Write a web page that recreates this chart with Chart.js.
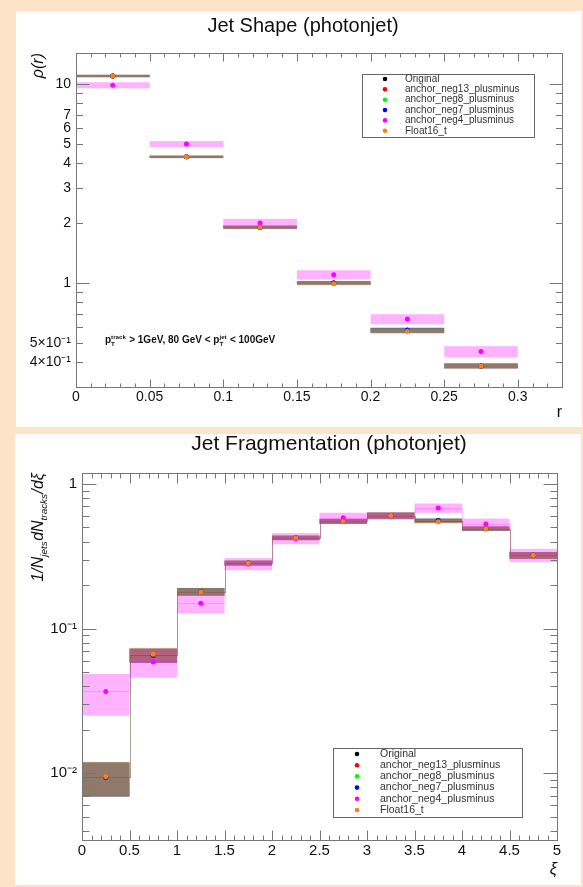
<!DOCTYPE html>
<html>
<head>
<meta charset="utf-8">
<title>Jet Shape / Jet Fragmentation (photonjet)</title>
<script src="https://cdn.jsdelivr.net/npm/chart.js@4.4.1/dist/chart.umd.min.js"></script>
<style>
    html, body { margin: 0; padding: 0; }
    body { width: 583px; height: 887px; background: #fde4c8; position: relative; overflow: hidden; }
    .pad { position: absolute; background: #fff; }
    #pad1 { left: 16px; top: 11px; width: 566px; height: 416px; }
    #pad2 { left: 15px; top: 434px; width: 566px; height: 451px; }
</style>
</head>
<body>
<div class="pad" id="pad1"><canvas id="shapeChart" width="566" height="416"></canvas></div>
<div class="pad" id="pad2"><canvas id="fragChart" width="566" height="451"></canvas></div>

<script>
// series, in legend order
var seriesNames = ["Original", "anchor_neg13_plusminus", "anchor_neg8_plusminus", "anchor_neg7_plusminus", "anchor_neg4_plusminus", "Float16_t"];
var seriesColors = ["#000000", "#ff0000", "#00ff00", "#0000ff", "#ff00ff", "#fa801e"];

// Jet Shape: rho(r) per r bin
var shapeEdges = [0, 0.05, 0.1, 0.15, 0.2, 0.25, 0.3];
var shapeOriginal = [10.96, 4.30, 1.905, 1.00, 0.578, 0.383];
var shapeOriginalErr = [0.15, 0.06, 0.035, 0.02, 0.017, 0.011];
var shapeNeg4 = [9.85, 4.99, 2.0, 1.10, 0.658, 0.452];
var shapeNeg4Err = [0.34, 0.17, 0.10, 0.058, 0.038, 0.029];
var shapeFloat16 = [10.96, 4.30, 1.905, 0.99, 0.571, 0.383];
var shapeXTicks = [0, 0.05, 0.1, 0.15, 0.2, 0.25, 0.3];
var shapeXLabels = ["0", "0.05", "0.1", "0.15", "0.2", "0.25", "0.3"];
var shapeYTicks = [10, 7, 6, 5, 4, 3, 2, 1, 0.5, 0.4];
var shapeYLabels = ["10", "7", "6", "5", "4", "3", "2", "1", "5\u00d710\u207b\u00b9", "4\u00d710\u207b\u00b9"];

// Jet Fragmentation: 1/N dN/dxi per xi bin
var fragEdges = [0, 0.5, 1, 1.5, 2, 2.5, 3, 3.5, 4, 4.5, 5];
var fragOriginal = [0.0094, 0.0655, 0.180, 0.284, 0.424, 0.551, 0.604, 0.558, 0.491, 0.321];
var fragOriginalErr = [0.0025, 0.0073, 0.011, 0.011, 0.015, 0.022, 0.03, 0.018, 0.017, 0.017];
var fragNeg4 = [0.0368, 0.0588, 0.150, 0.280, 0.420, 0.584, 0.600, 0.682, 0.528, 0.322];
var fragNeg4Err = [0.0118, 0.013, 0.022, 0.027, 0.037, 0.048, 0.035, 0.05, 0.048, 0.034];
var fragFloat16 = [0.0095, 0.0664, 0.179, 0.284, 0.424, 0.551, 0.604, 0.548, 0.491, 0.321];
var fragXTicks = [0, 0.5, 1, 1.5, 2, 2.5, 3, 3.5, 4, 4.5, 5];
var fragXLabels = ["0", "0.5", "1", "1.5", "2", "2.5", "3", "3.5", "4", "4.5", "5"];
var fragYTicks = [1, 0.1, 0.01];
var fragYLabels = ["1", "10\u207b\u00b9", "10\u207b\u00b2"];

var FONT = "'Liberation Sans', Arial, sans-serif";
Chart.defaults.font.family = FONT;
Chart.defaults.color = "#111";

function rgba(hex, a) {
    var n = parseInt(hex.slice(1), 16);
    return "rgba(" + (n >> 16) + "," + ((n >> 8) & 255) + "," + (n & 255) + "," + a + ")";
}

function makeDatasets(edges, series) {
    return series.map(function (s, k) {
        return {
            label: seriesNames[k],
            data: s.v.map(function (v, i) { return {x: (edges[i] + edges[i + 1]) / 2, y: v}; }),
            errs: s.e,
            backgroundColor: seriesColors[k],
            borderColor: seriesColors[k],
            pointRadius: 2.5,
            pointBorderWidth: 0,
            showLine: false,
            order: series.length - k
        };
    });
}

// ROOT style E2 boxes (+ optional hist line), drawn under the markers
var errorBands = {
    id: 'errorBands',
    beforeDatasetsDraw: function (chart, args, opts) {
        var ctx = chart.ctx, a = chart.chartArea, xs = chart.scales.x, ys = chart.scales.y;
        var edges = opts.edges;
        ctx.save();
        ctx.beginPath();
        ctx.rect(a.left, a.top, a.right - a.left, a.bottom - a.top);
        ctx.clip();
        chart.data.datasets.forEach(function (ds) {
            ctx.fillStyle = rgba(ds.backgroundColor, 0.3);
            ds.data.forEach(function (p, i) {
                var x0 = xs.getPixelForValue(edges[i]), x1 = xs.getPixelForValue(edges[i + 1]);
                var y0 = ys.getPixelForValue(p.y + ds.errs[i]), y1 = ys.getPixelForValue(p.y - ds.errs[i]);
                ctx.fillRect(x0, y0, x1 - x0, y1 - y0);
            });
        });
        if (opts.steps) {
            ctx.lineWidth = 1;
            chart.data.datasets.forEach(function (ds) {
                ctx.strokeStyle = rgba(ds.backgroundColor, ds.backgroundColor === "#000000" ? 0.06 : 0.2);
                ctx.beginPath();
                ds.data.forEach(function (p, i) {
                    var x0 = Math.round(xs.getPixelForValue(edges[i])) + 0.5, x1 = Math.round(xs.getPixelForValue(edges[i + 1])) + 0.5;
                    var y = Math.round(ys.getPixelForValue(p.y)) + 0.5;
                    if (i === 0) ctx.moveTo(x0, y); else ctx.lineTo(x0, y);
                    ctx.lineTo(x1, y);
                });
                ctx.stroke();
            });
        }
        ctx.restore();
    }
};

// frame + inward ticks on all four sides
var rootFrame = {
    id: 'rootFrame',
    afterDatasetsDraw: function (chart, args, o) {
        var ctx = chart.ctx, a = chart.chartArea, xs = chart.scales.x, ys = chart.scales.y;
        var L = Math.round(a.left) + 0.5, R = Math.round(a.right) + 0.5, T = Math.round(a.top) + 0.5, B = Math.round(a.bottom) + 0.5;
        ctx.save();
        ctx.strokeStyle = "#777";
        ctx.lineWidth = 1;
        ctx.strokeRect(L, T, R - L, B - T);
        ctx.beginPath();
        var n = Math.round((xs.max - xs.min) / o.xMinor);
        for (var i = 0; i <= n; i++) {
            var v = xs.min + i * o.xMinor;
            var r = v / o.xMajor;
            var len = Math.abs(r - Math.round(r)) < 1e-6 ? o.xMajorLen : o.xMinorLen;
            var px = Math.round(xs.getPixelForValue(v)) + 0.5;
            ctx.moveTo(px, B); ctx.lineTo(px, B - len);
            ctx.moveTo(px, T); ctx.lineTo(px, T + len);
        }
        var d0 = Math.floor(Math.log10(ys.min)), d1 = Math.ceil(Math.log10(ys.max));
        for (var d = d0; d <= d1; d++) {
            for (var k = 1; k <= 9; k++) {
                var yv = k * Math.pow(10, d);
                if (yv < ys.min || yv > ys.max) continue;
                var ylen = k === 1 ? o.yMajorLen : o.yMinorLen;
                var py = Math.round(ys.getPixelForValue(yv)) + 0.5;
                ctx.moveTo(L, py); ctx.lineTo(L + ylen, py);
                ctx.moveTo(R, py); ctx.lineTo(R - ylen, py);
            }
        }
        ctx.stroke();
        ctx.restore();
    }
};

// text with sub/superscripts; pieces are strings or {sub, sup}
function drawRich(ctx, x, y, pieces, size, style, measureOnly) {
    var cx = x;
    pieces.forEach(function (p) {
        if (typeof p === 'string') {
            ctx.font = style + ' ' + size + 'px ' + FONT;
            if (!measureOnly) ctx.fillText(p, cx, y);
            cx += ctx.measureText(p).width;
        } else {
            var small = size * 0.62, w = 0;
            ctx.font = style + ' ' + small + 'px ' + FONT;
            if (p.sub) {
                if (!measureOnly) ctx.fillText(p.sub, cx, y + size * 0.28);
                w = ctx.measureText(p.sub).width;
            }
            if (p.sup) {
                if (!measureOnly) ctx.fillText(p.sup, cx, y - size * 0.45);
                w = Math.max(w, ctx.measureText(p.sup).width);
            }
            cx += w + 0.5;
        }
    });
    return cx - x;
}

// titles, axis titles, note and legend box
var rootText = {
    id: 'rootText',
    afterDraw: function (chart, args, o) {
        var ctx = chart.ctx;
        ctx.save();
        ctx.fillStyle = "#111";
        ctx.textBaseline = 'middle';
        ctx.textAlign = 'center';
        ctx.font = o.titleSize + 'px ' + FONT;
        ctx.fillText(o.title, o.titleX, o.titleY);

        ctx.textAlign = 'right';
        ctx.font = o.xTitleStyle + ' 16px ' + FONT;
        ctx.fillText(o.xTitle, chart.chartArea.right, o.xTitleY);

        // rotated y title, ending at the top of the frame
        ctx.textAlign = 'left';
        ctx.textBaseline = 'alphabetic';
        var w = drawRich(ctx, 0, 0, o.yTitle, 16, 'italic', true);
        ctx.save();
        ctx.translate(o.yTitleX, chart.chartArea.top);
        ctx.rotate(-Math.PI / 2);
        drawRich(ctx, -w, 0, o.yTitle, 16, 'italic', false);
        ctx.restore();

        if (o.note) drawRich(ctx, o.note.x, o.note.y, o.note.pieces, 10, 'bold', false);

        var lg = o.legend;
        ctx.strokeStyle = "#666";
        ctx.lineWidth = 1;
        ctx.strokeRect(lg.x0 + 0.5, lg.y0 + 0.5, lg.x1 - lg.x0, lg.y1 - lg.y0);
        ctx.textBaseline = 'middle';
        ctx.font = lg.size + 'px ' + FONT;
        chart.data.datasets.forEach(function (ds, i) {
            var y = lg.y0 + lg.first + i * lg.step;
            ctx.fillStyle = ds.backgroundColor;
            ctx.beginPath();
            ctx.arc(lg.dotX, y, 2.3, 0, Math.PI * 2);
            ctx.fill();
            ctx.fillStyle = "#333";
            ctx.fillText(ds.label, lg.textX, y);
        });
        ctx.restore();
    }
};

function axes(xMin, xMax, xTicks, xLabels, yMin, yMax, yTicks, yLabels, yWidth, xHeight, fontSize) {
    return {
        x: {
            type: 'linear', min: xMin, max: xMax,
            grid: {display: false, drawTicks: false}, border: {display: false},
            afterBuildTicks: function (s) { s.ticks = xTicks.map(function (v) { return {value: v}; }); },
            afterFit: function (s) { s.height = xHeight; },
            ticks: {autoSkip: false, maxRotation: 0, padding: 2, font: {size: fontSize},
                callback: function (v, i) { return xLabels[i]; }}
        },
        y: {
            type: 'logarithmic', min: yMin, max: yMax,
            grid: {display: false, drawTicks: false}, border: {display: false},
            afterBuildTicks: function (s) { s.ticks = yTicks.map(function (v) { return {value: v}; }); },
            afterFit: function (s) { s.width = yWidth; },
            ticks: {autoSkip: false, padding: 5, font: {size: fontSize},
                callback: function (v, i) { return yLabels[i]; }}
        }
    };
}

var shapeSeries = [
    {v: shapeOriginal, e: shapeOriginalErr},
    {v: shapeOriginal, e: shapeOriginalErr},
    {v: shapeOriginal, e: shapeOriginalErr},
    {v: shapeOriginal, e: shapeOriginalErr},
    {v: shapeNeg4, e: shapeNeg4Err},
    {v: shapeFloat16, e: shapeOriginalErr}
];
var fragSeries = [
    {v: fragOriginal, e: fragOriginalErr},
    {v: fragOriginal, e: fragOriginalErr},
    {v: fragOriginal, e: fragOriginalErr},
    {v: fragOriginal, e: fragOriginalErr},
    {v: fragNeg4, e: fragNeg4Err},
    {v: fragFloat16, e: fragOriginalErr}
];

new Chart(document.getElementById("shapeChart").getContext("2d"), {
    type: 'scatter',
    data: {datasets: makeDatasets(shapeEdges, shapeSeries)},
    options: {
        responsive: false, animation: false, events: [],
        layout: {padding: {top: 42, right: 20, left: 0, bottom: 0}},
        scales: axes(0, 0.33, shapeXTicks, shapeXLabels, 0.307, 14.3, shapeYTicks, shapeYLabels, 60, 40, 14),
        plugins: {
            legend: {display: false}, tooltip: {enabled: false},
            errorBands: {edges: shapeEdges, steps: false},
            rootFrame: {xMajor: 0.05, xMinor: 0.01, xMajorLen: 8, xMinorLen: 4, yMajorLen: 13, yMinorLen: 6.5},
            rootText: {
                title: "Jet Shape (photonjet)", titleSize: 20, titleX: 287, titleY: 15,
                xTitle: "r", xTitleStyle: 'normal', xTitleY: 402,
                yTitle: ["\u03c1(r)"], yTitleX: 27,
                note: {x: 89, y: 332, pieces: ["p", {sub: "T", sup: "track"}, " > 1GeV, 80 GeV < p", {sub: "T", sup: "jet"}, " < 100GeV"]},
                legend: {x0: 346, y0: 63, x1: 518, y1: 126, first: 5, step: 10.35, dotX: 369, textX: 389, size: 10}
            }
        }
    },
    plugins: [errorBands, rootFrame, rootText]
});

new Chart(document.getElementById("fragChart").getContext("2d"), {
    type: 'scatter',
    data: {datasets: makeDatasets(fragEdges, fragSeries)},
    options: {
        responsive: false, animation: false, events: [],
        layout: {padding: {top: 39, right: 24, left: 0, bottom: 0}},
        scales: axes(0, 5, fragXTicks, fragXLabels, 0.00346, 1.19, fragYTicks, fragYLabels, 67, 45, 15),
        plugins: {
            legend: {display: false}, tooltip: {enabled: false},
            errorBands: {edges: fragEdges, steps: true},
            rootFrame: {xMajor: 0.5, xMinor: 0.1, xMajorLen: 10, xMinorLen: 5, yMajorLen: 14, yMinorLen: 7},
            rootText: {
                title: "Jet Fragmentation (photonjet)", titleSize: 21, titleX: 314, titleY: 10,
                xTitle: "\u03be", xTitleStyle: 'italic', xTitleY: 436,
                yTitle: ["1/N", {sub: "jets"}, "dN", {sub: "tracks"}, "/d\u03be"], yTitleX: 28,
                legend: {x0: 318, y0: 314, x1: 507, y1: 383, first: 6, step: 11.2, dotX: 342, textX: 365, size: 10.5}
            }
        }
    },
    plugins: [errorBands, rootFrame, rootText]
});
</script>
</body>
</html>
